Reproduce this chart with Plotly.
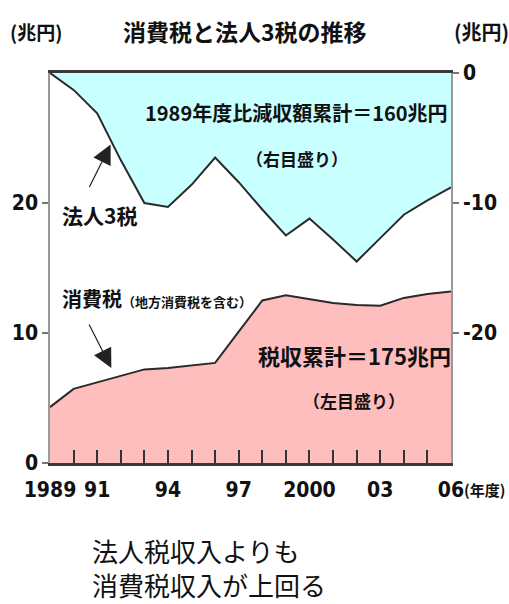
import plotly.graph_objects as go

# Fiscal years 1989-2006
years = list(range(1989, 2007))

# Consumption tax revenue incl. local consumption tax (trillion yen, left scale)
consumption_tax = [4.3, 5.7, 6.2, 6.7, 7.2, 7.3, 7.5, 7.7, 10.1, 12.5,
                   12.9, 12.6, 12.3, 12.15, 12.1, 12.7, 13.0, 13.2]

# Corporate 3 taxes, change vs. FY1989 (trillion yen, right scale)
corporate_change = [0.0, -1.3, -3.1, -6.7, -10.0, -10.3, -8.6, -6.5, -8.4, -10.5,
                    -12.5, -11.2, -12.8, -14.5, -12.7, -10.9, -9.8, -8.8]

x_tick_labels = {1989: "1989", 1991: "91", 1994: "94", 1997: "97",
                 2000: "2000", 2003: "03", 2006: "06"}
left_ticks = [0, 10, 20]
right_ticks = [0, -10, -20]

W, H = 509, 604
L, R, T, B = 45, 53, 73, 141
PW, PH = W - L - R, H - T - B

JP = "Noto Sans CJK JP"
NARROW = "DejaVu Sans Condensed, Liberation Sans Narrow, sans-serif"


def paper(xp, yp):
    """Convert page pixel position to paper coordinates."""
    return (xp - L) / PW, (H - B - yp) / PH


fig = go.Figure()

fig.add_trace(go.Scatter(
    x=years, y=consumption_tax, mode="lines", fill="tozeroy",
    fillcolor="#FFBEBE", line=dict(color="#2a2a2a", width=2),
    yaxis="y", showlegend=False, hoverinfo="skip"))

fig.add_trace(go.Scatter(
    x=years, y=corporate_change, mode="lines", fill="tozeroy",
    fillcolor="#C8FFFF", line=dict(color="#2a2a2a", width=2),
    yaxis="y2", showlegend=False, hoverinfo="skip"))

tick_font = dict(family=NARROW, size=21, color="#111", weight="bold")

fig.update_layout(
    width=W, height=H, autosize=False,
    margin=dict(l=L, r=R, t=T, b=B, pad=0),
    paper_bgcolor="white", plot_bgcolor="white",
    xaxis=dict(
        range=[1989, 2006], tickvals=years,
        ticktext=[x_tick_labels.get(y, "") for y in years],
        ticks="inside", ticklen=13, tickwidth=1.5, tickcolor="#333",
        showline=True, linecolor="#3a3a3a", linewidth=3, mirror=True,
        showgrid=False, zeroline=False, tickfont=tick_font,
        ticklabelstandoff=6, fixedrange=True),
    yaxis=dict(
        range=[0, 30], tickvals=left_ticks, ticktext=[str(v) for v in left_ticks],
        ticks="outside", ticklen=6, tickwidth=1.5, tickcolor="#777",
        showline=True, linecolor="#999", linewidth=1.5,
        showgrid=False, zeroline=False, tickfont=tick_font, fixedrange=True),
    yaxis2=dict(
        range=[-30, 0], overlaying="y", side="right",
        tickvals=right_ticks, ticktext=["0", "-10", "-20"],
        ticks="outside", ticklen=6, tickwidth=1.5, tickcolor="#777",
        showline=True, linecolor="#999", linewidth=1.5,
        showgrid=False, zeroline=False, tickfont=tick_font, fixedrange=True),
)

annotations = []


def text(xp, yp, s, size, anchor="center", bold=True, family=JP, color="#111",
         align="center"):
    px_, py_ = paper(xp, yp)
    annotations.append(dict(
        x=px_, y=py_, xref="paper", yref="paper", text=s, showarrow=False,
        xanchor=anchor, yanchor="middle", align=align,
        font=dict(family=family, size=size, color=color,
                  weight="bold" if bold else "normal")))


# Title and unit labels
text(245, 31, "消費税と法人3税の推移", 23)
text(2, 32, "(兆円)", 19, anchor="left")
text(457, 32, "(兆円)", 20, anchor="left")
text(467, 489, "(年度)", 15, anchor="left")

# Corporate tax block
text(298, 112, "1989年度比減収額累計＝160兆円", 20)
text(298, 158, "（右目盛り）", 17)
text(55, 215, "法人3税", 21, anchor="left")

# Consumption tax block
text(55, 298, "消費税<span style='font-size:13px'>（地方消費税を含む）</span>", 20,
     anchor="left")
text(357, 355, "税収累計＝175兆円", 22)
text(357, 400, "（左目盛り）", 17)

# Caption below the chart
text(86, 567, "法人税収入よりも<br>消費税収入が上回る", 26, anchor="left",
     bold=False, align="left")

# Pointer arrows to the two lines
for hx, hy, tx, ty in [(1991.57, 24.5, -22, 44), (1991.6, 7.3, -23, -45)]:
    annotations.append(dict(
        x=hx, y=hy, xref="x", yref="y", text="", showarrow=True,
        ax=tx, ay=ty, arrowhead=2, arrowsize=3.2, arrowwidth=1.2,
        arrowcolor="#222", standoff=0))

fig.update_layout(annotations=annotations)

fig.write_html("out.html", config={"displayModeBar": False})
